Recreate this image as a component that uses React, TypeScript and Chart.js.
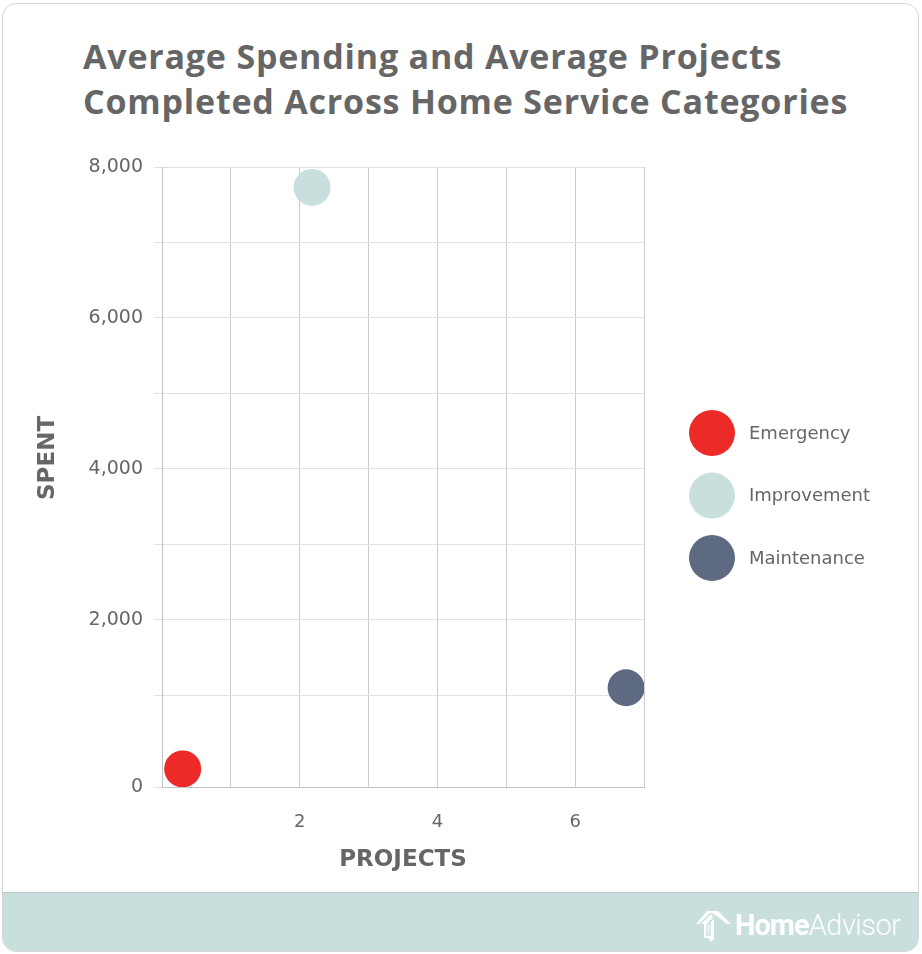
import React, { useEffect, useRef } from "react";
import { Chart, registerables } from "chart.js";

Chart.register(...registerables);

// ---- data ----
const categories = ["Emergency", "Improvement", "Maintenance"];
const projectsValues = [0.3, 2.18, 6.74];
const spentValues = [25, 7730, 1100];
const seriesColors = ["#ec2a27", "#c9dfdd", "#5e6a82"];

const xLabelValues = [2, 4, 6];
const yGridValues = [1000, 2000, 3000, 4000, 5000, 6000, 7000, 8000];
const yLabelValues = [2000, 4000, 6000, 8000];
// the reference's value axis starts a little below zero at its "0" line
const Y_AXIS_FLOOR = -215;

const TEXT = "#666666";

const legendPlugin = {
  id: "bigLegend",
  afterDraw(chart: any, _args: any, opts: any) {
    const ctx = chart.ctx;
    ctx.save();
    chart.data.datasets.forEach((ds: any, i: number) => {
      const cy = opts.y + i * opts.gap;
      ctx.beginPath();
      ctx.arc(opts.x, cy, opts.r, 0, Math.PI * 2);
      ctx.fillStyle = ds.backgroundColor;
      ctx.fill();
      ctx.fillStyle = TEXT;
      ctx.font = "18px 'DejaVu Sans'";
      ctx.textBaseline = "middle";
      ctx.textAlign = "left";
      ctx.fillText(ds.label, opts.x + opts.r + 14, cy + 1);
    });
    ctx.restore();
  },
};

export default function App() {
  const ref = useRef<HTMLCanvasElement | null>(null);

  useEffect(() => {
    if (!ref.current) return;
    const chart = new Chart(ref.current, {
      type: "scatter",
      data: {
        datasets: categories.map((c, i) => ({
          label: c,
          data: [{ x: projectsValues[i], y: spentValues[i] }],
          backgroundColor: seriesColors[i],
          borderWidth: 0,
          pointRadius: 18.5,
          pointHoverRadius: 18.5,
        })),
      },
      options: {
        animation: false,
        responsive: false,
        devicePixelRatio: 1,
        layout: { padding: { left: 0, right: 278, top: 167, bottom: 67 } },
        plugins: {
          legend: { display: false },
          tooltip: { enabled: false },
          bigLegend: { x: 712, y: 433, gap: 62.5, r: 23 },
        } as any,
        scales: {
          x: {
            type: "linear",
            min: 0,
            max: 7,
            afterFit: (s: any) => {
              s.height = 100;
            },
            ticks: {
              stepSize: 1,
              autoSkip: false,
              color: TEXT,
              padding: 25,
              font: { family: "'DejaVu Sans'", size: 18 },
              callback: (v: any) => (xLabelValues.includes(v) ? String(v) : ""),
            },
            grid: { color: "#cccccc", drawTicks: false },
            border: { color: "#c2c2c2" },
            title: {
              display: true,
              text: "PROJECTS",
              color: TEXT,
              font: { family: "'DejaVu Sans'", size: 23, weight: "bold" },
              padding: { top: 0, bottom: 13 },
            },
          },
          y: {
            type: "linear",
            min: Y_AXIS_FLOOR,
            max: 8000,
            afterFit: (s: any) => {
              s.width = 162;
            },
            afterBuildTicks: (s: any) => {
              s.ticks = [Y_AXIS_FLOOR, ...yGridValues].map((v) => ({ value: v }));
            },
            ticks: {
              autoSkip: false,
              color: TEXT,
              padding: 11,
              font: { family: "'DejaVu Sans'", size: 19 },
              callback: (v: any) =>
                v === Y_AXIS_FLOOR
                  ? "0"
                  : yLabelValues.includes(v)
                  ? Number(v).toLocaleString("en-US")
                  : "",
            },
            grid: { color: "#e2e2e2", tickLength: 8, tickColor: "#e2e2e2" },
            border: { color: "#c2c2c2" },
          },
        },
      },
      plugins: [legendPlugin],
    });
    return () => chart.destroy();
  }, []);

  return (
    <div
      style={{
        position: "absolute",
        left: 0,
        top: 0,
        width: 922,
        height: 954,
        background: "#ffffff",
        overflow: "hidden",
      }}
    >
      <div
        style={{
          position: "absolute",
          left: 2,
          top: 3,
          width: 915,
          height: 947,
          border: "1px solid #d6d6d6",
          borderRadius: 14,
          overflow: "hidden",
          background: "#fff",
        }}
      >
        <div
          style={{
            position: "absolute",
            left: 0,
            right: 0,
            bottom: 0,
            height: 58,
            background: "#c9dfdd",
            borderTop: "1px solid #b9c7c6",
          }}
        />
      </div>
      <div
        style={{
          position: "absolute",
          left: 83,
          top: 34,
          fontFamily: "'Open Sans', sans-serif",
          fontWeight: 700,
          fontSize: 34,
          letterSpacing: 0.8,
          lineHeight: "45px",
          color: TEXT,
          whiteSpace: "nowrap",
        }}
      >
        Average Spending and Average Projects
        <br />
        Completed Across Home Service Categories
      </div>
      <canvas
        ref={ref}
        width={922}
        height={954}
        style={{ position: "absolute", left: 0, top: 0, width: 922, height: 954 }}
      />
      <div
        style={{
          position: "absolute",
          left: 46,
          top: 458,
          transform: "translate(-50%, -50%) rotate(-90deg)",
          fontFamily: "'DejaVu Sans'",
          fontWeight: 700,
          fontSize: 23,
          color: TEXT,
          whiteSpace: "nowrap",
        }}
      >
        SPENT
      </div>
      <div
        style={{
          position: "absolute",
          left: 694,
          top: 907,
          height: 36,
          display: "flex",
          alignItems: "center",
          color: "#ffffff",
          fontFamily: "Roboto, sans-serif",
        }}
      >
        <svg width="40" height="36" viewBox="0 0 40 36" style={{ marginRight: 1 }}>
          <path
            d="M2 17 L13 4 L24 4 L37 17 L33 17 L22 8 L20 8 L20 32 L17 35 L14 31 L10 31 L10 17 Z"
            fill="#ffffff"
          />
          <path d="M6 17 L16 7 L19 7 L19 12 L13 18 L13 28 L16 28 L16 13" fill="none" stroke="#c9dfdd" strokeWidth="1.5" />
        </svg>
        <span style={{ fontWeight: 700, fontSize: 29, letterSpacing: -1 }}>Home</span>
        <span style={{ fontWeight: 300, fontSize: 29, letterSpacing: -0.5 }}>Advisor</span>
      </div>
    </div>
  );
}
